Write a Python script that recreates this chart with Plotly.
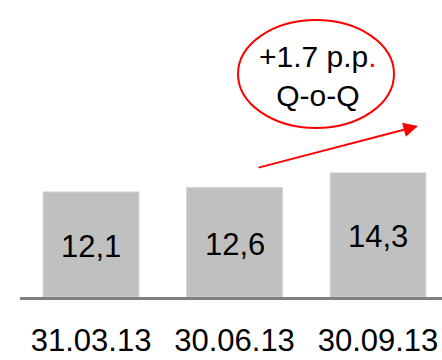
import plotly.graph_objects as go

categories = ["31.03.13", "30.06.13", "30.09.13"]
values = [12.1, 12.6, 14.3]
value_labels = ["12,1", "12,6", "14,3"]
change_text = "+1.7 p.p"
change_sub = "Q-o-Q"

FONT = "Liberation Sans, Arial, sans-serif"

fig = go.Figure()
fig.add_trace(go.Bar(
    x=categories, y=values, width=0.667,
    marker=dict(color="#c0c0c0", line=dict(color="#d0d0d0", width=1)),
    hoverinfo="skip",
))

annotations = []
for c, v, t in zip(categories, values, value_labels):
    annotations.append(dict(
        x=c, y=v / 2, xref="x", yref="y", text=t, showarrow=False,
        font=dict(family=FONT, size=31, color="black"), yshift=-2,
    ))

# ellipse text
annotations.append(dict(
    x=(318 - 20) / 422, y=(297 - 76) / 297, xref="paper", yref="paper",
    text=change_text + "<span style='color:#ff0000'>.</span><br>" + change_sub,
    showarrow=False, font=dict(family=FONT, size=30, color="black"),
    xanchor="center", yanchor="middle",
))
# arrow
annotations.append(dict(
    x=(418 - 20) / 422, y=(297 - 126) / 297, xref="paper", yref="paper",
    ax=-161, ay=42, text="", showarrow=True,
    arrowhead=2, arrowwidth=2, arrowsize=1.45, arrowcolor="#ff0000", standoff=0,
))

fig.update_layout(
    width=442, height=360,
    margin=dict(l=20, r=0, t=0, b=63, autoexpand=False),
    paper_bgcolor="white", plot_bgcolor="white",
    showlegend=False,
    annotations=annotations,
    shapes=[dict(
        type="circle", xref="paper", yref="paper",
        x0=(238 - 20) / 422, x1=(394 - 20) / 422,
        y0=(297 - 128) / 297, y1=(297 - 20) / 297,
        line=dict(color="#ff0000", width=2),
    )],
    xaxis=dict(
        type="category", range=[-0.495, 2.446], automargin=False,
        showline=True, linecolor="#808080", linewidth=3,
        showgrid=False, zeroline=False, ticks="",
        tickfont=dict(family=FONT, size=31, color="black"),
        ticklabelstandoff=14,
    ),
    yaxis=dict(
        range=[0, 297 / 8.68], visible=False, showgrid=False, zeroline=False,
        automargin=False,
    ),
)

fig.write_html(
    "out.html",
    config={"displayModeBar": False},
    post_script="document.body.style.margin='0';document.body.style.padding='0';",
)
